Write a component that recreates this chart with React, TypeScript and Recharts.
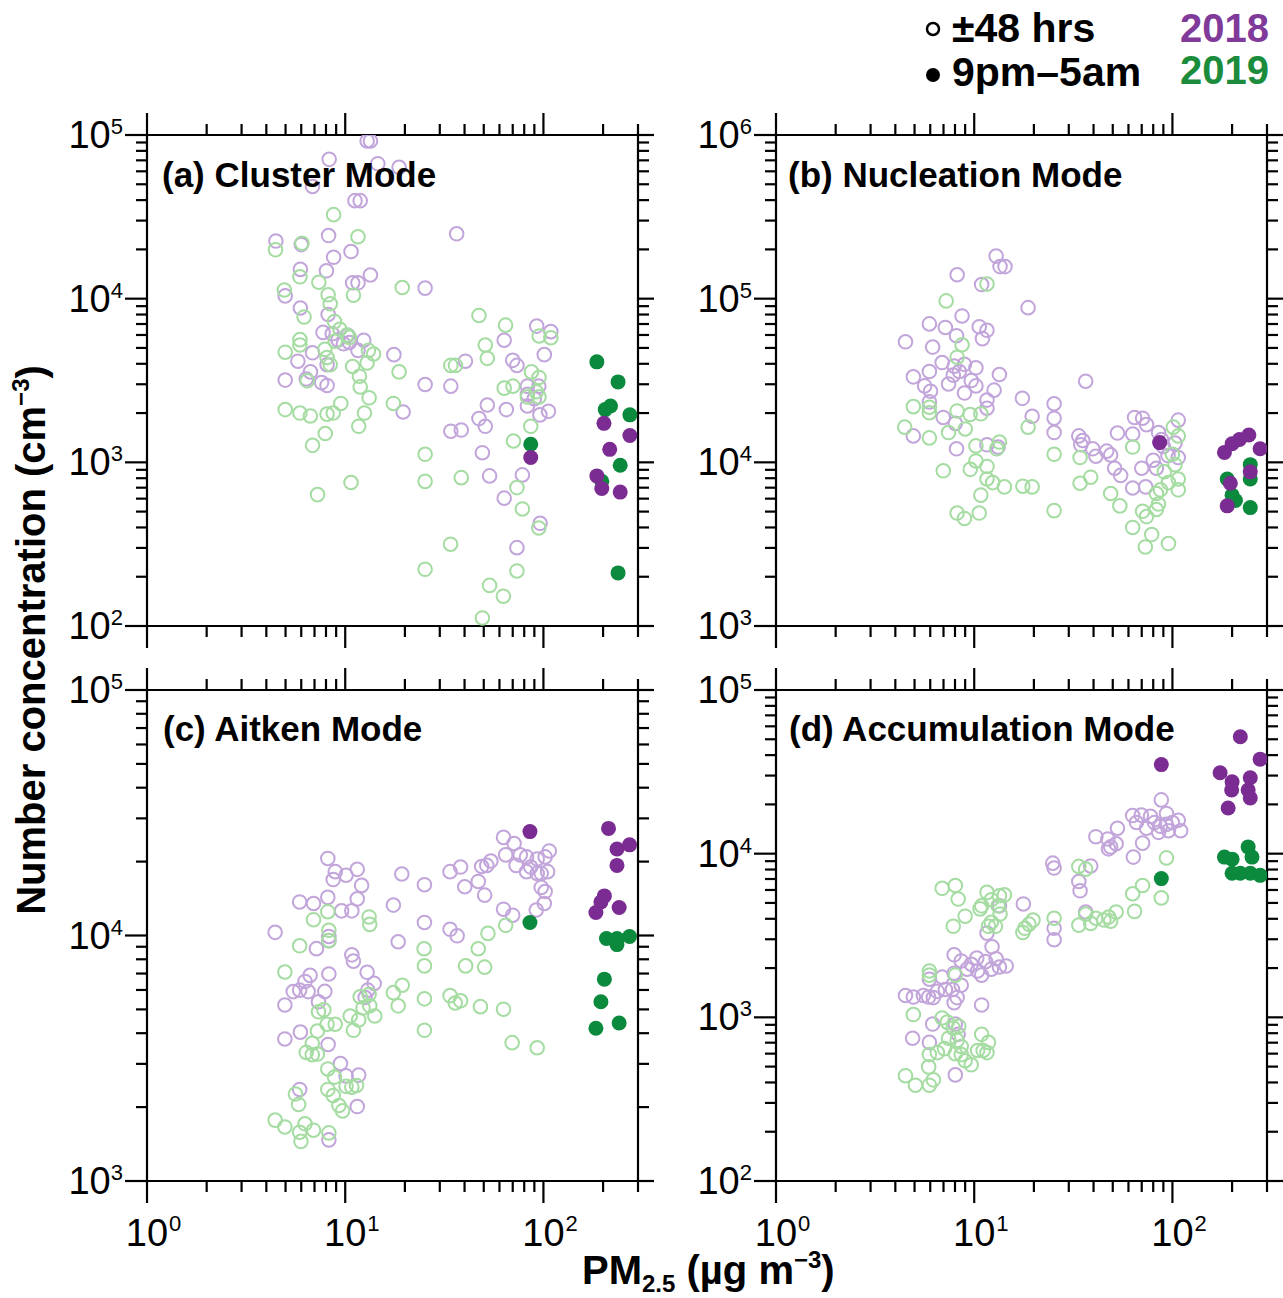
import React from "react";
import { ScatterChart, Scatter, XAxis, YAxis, ReferenceArea } from "recharts";

type Pt = [number, number];

// x = PM2.5 (µg m-3), y = number concentration (cm-3)
// (a) Cluster mode
const clusterOpen2018: Pt[] = [
  [12.9, 92000], [13.4, 92000], [8.3, 71000], [6.84, 48500], [14.6, 66800], [18.7, 63500],
  [11.2, 39700], [11.9, 39700], [36.5, 24900], [4.47, 22500], [8.24, 24300], [6.0, 21400],
  [10.7, 19400], [8.74, 17900], [5.94, 15100], [8.04, 14800], [13.4, 13950], [10.9, 12500],
  [11.6, 12500], [4.98, 10400], [25.3, 11600], [5.94, 8770], [8.2, 8010], [92.5, 6800],
  [109, 6290], [7.73, 6220], [63.4, 5570], [10.3, 5970], [12.4, 5570], [6.84, 4670],
  [17.6, 4550], [101, 4550], [11.6, 4830], [5.77, 4150], [40.4, 4150], [70, 4200],
  [73.5, 3910], [6.68, 3570], [4.98, 3180], [6.36, 3230], [8.1, 3950], [7.6, 3070],
  [8.1, 2950], [25.3, 2990], [34.1, 2920], [83, 2920], [94.8, 2920], [52.1, 2240],
  [65, 2100], [83, 2210], [96, 1950], [106, 2050], [19.6, 2030], [47.3, 1850], [50.9, 1660],
  [34.1, 1550], [38.5, 1575], [49.2, 1145], [53.5, 826], [78.3, 838], [63.4, 604],
  [96.2, 424], [73.5, 301], [9.2, 5600], [9.8, 5300], [8.6, 6100], [10.5, 5400], [83, 2600], [90, 2450],
];
const clusterOpen2019: Pt[] = [
  [8.74, 32600], [11.6, 23900], [4.45, 19900], [6.05, 21800], [4.93, 11300], [5.91, 13600],
  [7.36, 12600], [11.0, 10500], [19.4, 11700], [8.2, 10560], [8.4, 9310], [6.2, 7730],
  [8.83, 7240], [47.3, 7890], [64.4, 6890], [95.2, 5920], [109, 5770], [50.9, 5210],
  [52.1, 4320], [5.91, 5620], [5.91, 5210], [4.98, 4710], [13.1, 4830], [13.9, 4590],
  [8.1, 4370], [8.4, 3950], [10.9, 3850], [12.9, 4050], [34.1, 3910], [36.0, 3910],
  [18.7, 3570], [11.8, 3360], [11.9, 2890], [87, 3570], [6.43, 3150], [63.4, 2840],
  [70.2, 2920], [83, 2510], [95, 2510], [13.2, 2480], [4.98, 2100], [5.91, 2000], [6.67, 1920],
  [8.1, 1970], [8.7, 2000], [9.5, 2290], [12.5, 2000], [11.7, 1660], [17.5, 2290], [7.93, 1500],
  [6.84, 1270], [86.3, 1660], [70.6, 1350], [25.3, 1120], [25.3, 765], [10.7, 753], [38.5, 806],
  [73.5, 701], [7.25, 635], [78.3, 519], [94.8, 397], [34, 316], [25.3, 222], [73.5, 217],
  [53.5, 177], [62.8, 152], [49.2, 112], [9.4, 6500], [10.2, 6000], [8.9, 5500], [7.9, 4900],
  [10.5, 5800], [95, 3300], [92, 2700],
];
const clusterNight2018: Pt[] = [
  [86.3, 1070], [202, 1730], [273, 1460], [216, 1200], [186, 826], [197, 692], [244, 658],
];
const clusterNight2019: Pt[] = [
  [86.3, 1290], [186, 4110], [238, 3100], [205, 2100], [218, 2210], [273, 1950], [244, 960],
  [197, 765], [238, 211],
];

// (b) Nucleation mode
const nucOpen2018: Pt[] = [
  [12.9, 182000], [13.5, 157000], [14.3, 157000], [8.2, 140000], [10.9, 122000], [18.7, 88100],
  [8.68, 78400], [5.94, 70100], [7.15, 66700], [10.6, 67400], [11.6, 64100], [8.14, 59400],
  [11.0, 57000], [4.5, 54500], [6.17, 50600], [6.89, 40700], [7.92, 38700], [8.93, 39700],
  [10.2, 37800], [8.41, 35900], [7.84, 34100], [5.94, 35900], [4.93, 33300], [13.4, 34400],
  [7.42, 30100], [9.66, 31600], [10.2, 29300], [36.5, 31300], [5.62, 29300], [6.02, 27200],
  [12.6, 27600], [8.93, 26500], [11.6, 24000], [17.5, 24600], [5.94, 23400], [25.3, 22800],
  [25.3, 18600], [25.3, 15200], [11.6, 21400], [19.6, 19100], [6.98, 18800], [8.03, 17300],
  [4.93, 14500], [64.4, 18800], [70.7, 18600], [107, 18100], [74, 17000], [52.8, 15100],
  [63, 14900], [33.7, 14500], [35.3, 13600], [85.1, 15200], [34.5, 12800], [39.6, 12100],
  [46.6, 11700], [48.8, 11100], [41.1, 10900], [8.14, 12100], [11.6, 12800], [13.2, 12400],
  [70, 9200], [51.1, 9200], [54.8, 8320], [83, 9200], [107, 10700], [103, 13100], [63, 6970],
  [73.3, 7080], [90, 12500], [95, 11000], [80, 10300], [88, 13800],
];
const nucOpen2019: Pt[] = [
  [11.6, 123000], [7.22, 96900], [8.68, 52300], [8.2, 43900], [4.93, 21900], [5.94, 21700],
  [5.94, 20100], [4.46, 16400], [5.94, 14100], [7.42, 15200], [8.2, 20600], [9.01, 16000],
  [10.8, 19800], [9.53, 19600], [10.2, 12600], [13.4, 13300], [13.0, 12100], [10.2, 10200],
  [11.6, 9440], [9.55, 9060], [11.6, 7910], [12.4, 7520], [14.2, 7080], [10.8, 6300],
  [10.6, 4900], [8.2, 4900], [8.93, 4540], [6.98, 8880], [17.6, 7150], [19.6, 7080],
  [18.7, 16400], [25.3, 11200], [25.3, 5070], [34.2, 10700], [34.2, 7450], [38.7, 8110],
  [48.8, 6450], [54.3, 5420], [63, 12400], [63, 4000], [78.6, 3620], [73, 3040], [95.5, 3190],
  [70.7, 5020], [74, 4660], [83, 5150], [87, 6790], [95.5, 7520], [107, 7910], [91, 8750],
  [103, 9680], [100, 11200], [101, 16400], [107, 14500], [83, 6450], [107, 6790], [85, 5560],
];
const nucNight2018: Pt[] = [
  [86.2, 13200], [183, 11500], [200, 13000], [218, 13800], [243, 14700], [277, 12100],
  [196, 7450], [247, 8750], [189, 5420],
];
const nucNight2019: Pt[] = [
  [189, 7910], [200, 6300], [208, 5850], [247, 9680], [247, 7910], [247, 5290],
];

// (c) Aitken mode
const aitOpen2018: Pt[] = [
  [8.17, 20600], [8.91, 18200], [10.1, 17600], [11.5, 18600], [8.7, 16900], [12.1, 16000],
  [19.3, 17800], [25.1, 16100], [5.89, 13700], [6.92, 13500], [8.17, 14300], [9.59, 12600],
  [10.8, 12600], [11.5, 14100], [17.5, 13300], [33.8, 18200], [38.2, 19000], [40.1, 15800],
  [46.9, 16600], [50.5, 14600], [48.8, 19100], [51.8, 19300], [54.3, 20100], [62.9, 25100],
  [71.1, 23700], [64.5, 21300], [76.4, 21300], [72.8, 19300], [82.2, 20900], [93, 20500],
  [102, 20900], [107, 22100], [82.2, 18200], [93, 17900], [86.3, 19000], [97.5, 17900],
  [105, 18200], [97.5, 15700], [102, 15100], [101, 13500], [92, 12700], [62.9, 12800],
  [70, 12100], [25.1, 11300], [33.8, 10600], [36.7, 9970], [4.43, 10300], [8.27, 9530],
  [8.27, 9910], [7.16, 8840], [18.5, 9430], [10.8, 8340], [11.0, 7860], [8.27, 6970],
  [6.65, 6880], [6.27, 6500], [12.9, 7080], [14.0, 6380], [5.89, 5990], [5.47, 5910],
  [6.5, 5910], [4.96, 5210], [7.89, 5920], [7.33, 5370], [13.0, 5990], [12.6, 5590],
  [5.94, 4040], [4.96, 3790], [8.2, 3600], [9.46, 3010], [10.1, 2680], [11.7, 2700],
  [5.89, 2360], [11.5, 2010], [8.27, 1470],
];
const aitOpen2019: Pt[] = [
  [6.92, 11600], [8.17, 12500], [13.2, 11900], [13.3, 11100], [5.89, 9080], [8.27, 10500],
  [8.27, 9530], [4.96, 7100], [25.0, 8830], [25.1, 7520], [40.5, 7520], [50.5, 7430],
  [46.9, 8830], [52.5, 10200], [64.5, 11000], [17.5, 5850], [19.4, 6270], [18.5, 5170],
  [25.1, 5520], [33.8, 5690], [35.9, 5310], [38.2, 5420], [48.1, 5130], [62.9, 5010],
  [25.1, 4110], [69.5, 3660], [93, 3490], [11.9, 5630], [12.3, 5070], [13.2, 5750],
  [13.3, 5170], [14.1, 4700], [10.6, 4700], [11.0, 4110], [11.7, 4530], [7.33, 4890],
  [7.8, 4980], [8.1, 4350], [8.9, 4350], [7.24, 4080], [6.82, 3640], [6.36, 3340], [6.82, 3270],
  [7.24, 3290], [8.17, 2860], [8.83, 2650], [8.17, 2360], [8.7, 2230], [10.1, 2430],
  [10.8, 2410], [11.4, 2450], [9.3, 2030], [9.7, 1930], [5.61, 2260], [5.82, 2050],
  [4.43, 1770], [4.96, 1660], [5.89, 1580], [5.98, 1450], [6.27, 1710], [6.92, 1610], [8.27, 1570],
];
const aitNight2018: Pt[] = [
  [85.5, 26500], [213, 27300], [235, 22500], [272, 23400], [235, 19300], [203, 14500],
  [195, 13700], [184, 12400], [241, 13000],
];
const aitNight2019: Pt[] = [
  [85.5, 11300], [208, 9720], [235, 9720], [272, 9910], [235, 9180], [203, 6640], [195, 5370],
  [184, 4190], [241, 4400],
];

// (d) Accumulation mode
const accOpen2018: Pt[] = [
  [87.9, 21300], [63, 17100], [69.7, 17200], [77.5, 16900], [93.3, 17600], [65.9, 15500],
  [74, 14300], [81.2, 15500], [87, 14700], [93, 15100], [100, 15500], [107, 16000], [110, 13800],
  [95.5, 13800], [85.1, 13500], [52.8, 14300], [41.1, 12700], [47.2, 12300], [48.8, 11000],
  [52, 11500], [47.6, 10700], [70.7, 11600], [63.5, 9530], [24.9, 8750], [25.3, 8170],
  [38.7, 8410], [33.7, 6760], [34.2, 5930], [36.5, 4400], [17.7, 4930], [13.4, 4800],
  [11.6, 3270], [12.3, 2700], [7.92, 2410], [8.6, 2210], [9.66, 2110], [10.3, 2300],
  [11.4, 2190], [12.9, 2280], [13.4, 2030], [14.5, 2060], [9.22, 1970], [10.4, 1920],
  [10.9, 1810], [12.2, 1970], [7.92, 1860], [6.89, 1760], [5.94, 1710], [8.6, 1570],
  [7.77, 1480], [7.15, 1480], [6.52, 1440], [7.92, 1230], [6.22, 1320], [5.54, 1360],
  [4.93, 1330], [4.5, 1360], [5.89, 1330], [8.2, 1320], [10.9, 1190], [4.89, 745], [6.17, 910],
  [8.03, 910], [8.3, 787], [5.94, 703], [8.03, 445], [25.3, 3500], [25.3, 2980],
];
const accOpen2019: Pt[] = [
  [93.3, 9420], [87.9, 5370], [70.7, 6390], [63, 5690], [64.4, 4440], [33.7, 8360], [36.5, 8040],
  [52, 4400], [47.7, 4100], [48.8, 3870], [41.1, 4030], [36.5, 4270], [33.7, 3660], [38.7, 3750],
  [45.1, 3930], [25.3, 4030], [19.8, 3930], [18.9, 3710], [17.6, 3300], [18.0, 3500],
  [6.89, 6140], [8.03, 6390], [8.3, 5280], [7.84, 3600], [9.0, 4150], [10.7, 4600], [11.6, 5800],
  [12.2, 5230], [10.9, 4800], [13.4, 5530], [14.2, 5600], [13.2, 4800], [13.5, 4280],
  [12.2, 3810], [12.8, 3600], [11.8, 3600], [4.5, 440], [5.05, 385], [5.94, 385], [6.22, 415],
  [5.89, 498], [4.93, 1040], [5.94, 592], [6.52, 609], [7.08, 644], [8.03, 599], [8.6, 592],
  [9.0, 543], [9.66, 513], [10.4, 627], [11.1, 627], [11.6, 609], [10.9, 787], [11.8, 703],
  [6.89, 991], [7.31, 935], [7.84, 859], [8.36, 883], [8.2, 723], [8.6, 664], [7.42, 745],
  [5.94, 1810], [5.94, 1920], [8.03, 1810],
];
const accNight2018: Pt[] = [
  [87.9, 35000], [220, 51800], [277, 37800], [174, 31200], [200, 27500], [247, 29100],
  [241, 24500], [199, 24500], [247, 21900], [191, 19000],
];
const accNight2019: Pt[] = [
  [87.9, 7040], [183, 9530], [200, 9260], [241, 11000], [252, 9530], [200, 7590], [220, 7590],
  [247, 7590], [277, 7370],
];

const xMajors = [1, 10, 100];
const xDomain: [number, number] = [1, 300];

const LIGHT_PURPLE = "#c2a5da";
const LIGHT_GREEN = "#a5dca2";
const PURPLE = "#7b2c92";
const GREEN = "#0b8a3d";
const FONT = "'Liberation Sans', Arial, Helvetica, sans-serif";

const PLOT_W = 491;
const PLOT_H = 491;

function withMinors(majors: number[], max: number) {
  const out: number[] = [];
  majors.forEach((m) => {
    for (let k = 1; k <= 9; k++) {
      const v = m * k;
      if (v <= max * 1.0001) out.push(v);
    }
  });
  return out;
}

function isMajor(v: number) {
  const e = Math.log10(v);
  return Math.abs(e - Math.round(e)) < 1e-6;
}

function XTick(props: any) {
  const { x, y, payload, showLabel } = props;
  const v = payload.value;
  const len = isMajor(v) ? 22 : 11;
  return (
    <g>
      <line x1={x} x2={x} y1={y} y2={y + len} stroke="#000" strokeWidth={2.2} />
      <line x1={x} x2={x} y1={y - PLOT_H} y2={y - PLOT_H - len} stroke="#000" strokeWidth={2.2} />
      {showLabel && isMajor(v) && (
        <g fontFamily={FONT} fill="#000">
          <text x={x} y={y + 65} fontSize={38} textAnchor="middle">10</text>
          <text x={x + 22} y={y + 50} fontSize={22} textAnchor="start">
            {Math.round(Math.log10(v))}
          </text>
        </g>
      )}
    </g>
  );
}

function YTick(props: any) {
  const { x, y, payload } = props;
  const v = payload.value;
  const len = isMajor(v) ? 22 : 11;
  return (
    <g>
      <line x1={x} x2={x - len} y1={y} y2={y} stroke="#000" strokeWidth={2.2} />
      <line x1={x + PLOT_W} x2={x + PLOT_W + len} y1={y} y2={y} stroke="#000" strokeWidth={2.2} />
      {isMajor(v) && (
        <text x={x - 24} y={y + 13} fontSize={38} textAnchor="end" fontFamily={FONT} fill="#000">
          10
          <tspan dy={-14} fontSize={22}>
            {Math.round(Math.log10(v))}
          </tspan>
        </text>
      )}
    </g>
  );
}

const toObj = (pts: Pt[]) => pts.map(([x, y]) => ({ x, y }));

const openShape = (color: string) => (p: any) =>
  <circle cx={p.cx} cy={p.cy} r={6.8} fill="none" stroke={color} strokeWidth={2} />;
const fillShape = (color: string) => (p: any) =>
  <circle cx={p.cx} cy={p.cy} r={7.5} fill={color} stroke="none" />;

interface PanelProps {
  left: number;
  top: number;
  yMajors: number[];
  showX: boolean;
  open18: Pt[];
  open19: Pt[];
  night18: Pt[];
  night19: Pt[];
}

function Panel({ left, top, yMajors, showX, open18, open19, night18, night19 }: PanelProps) {
  const yDomain: [number, number] = [yMajors[0], yMajors[yMajors.length - 1]];
  const yTicks = withMinors(yMajors, yDomain[1]);
  const xTicks = withMinors(xMajors, xDomain[1]);
  return (
    <div style={{ position: "absolute", left: left - 100, top: top - 30 }}>
      <ScatterChart
        width={PLOT_W + 100 + 16}
        height={PLOT_H + 30 + 100}
        margin={{ top: 30, right: 16, bottom: 40, left: 20 }}
      >
        <XAxis
          type="number"
          dataKey="x"
          scale="log"
          domain={xDomain}
          allowDataOverflow
          ticks={xTicks}
          interval={0}
          tickSize={0}
          tickMargin={0}
          axisLine={false}
          height={60}
          tick={(p: any) => <XTick {...p} showLabel={showX} />}
        />
        <YAxis
          type="number"
          dataKey="y"
          scale="log"
          domain={yDomain}
          allowDataOverflow
          ticks={yTicks}
          interval={0}
          tickSize={0}
          tickMargin={0}
          axisLine={false}
          width={80}
          tick={(p: any) => <YTick {...p} />}
        />
        <Scatter data={toObj(open18)} isAnimationActive={false} shape={openShape(LIGHT_PURPLE)} />
        <Scatter data={toObj(open19)} isAnimationActive={false} shape={openShape(LIGHT_GREEN)} />
        <Scatter data={toObj(night19)} isAnimationActive={false} shape={fillShape(GREEN)} />
        <Scatter data={toObj(night18)} isAnimationActive={false} shape={fillShape(PURPLE)} />
        <ReferenceArea
          x1={xDomain[0]}
          x2={xDomain[1]}
          y1={yDomain[0]}
          y2={yDomain[1]}
          fill="none"
          stroke="#000"
          strokeWidth={2.2}
          strokeOpacity={1}
        />
      </ScatterChart>
    </div>
  );
}

export default function App() {
  return (
    <div
      style={{
        position: "absolute",
        left: 0,
        top: 0,
        width: 1283,
        height: 1298,
        overflow: "hidden",
        background: "#fff",
      }}
    >
      <Panel left={147} top={135} yMajors={[1e2, 1e3, 1e4, 1e5]} showX={false}
        open18={clusterOpen2018} open19={clusterOpen2019} night18={clusterNight2018} night19={clusterNight2019} />
      <Panel left={776} top={135} yMajors={[1e3, 1e4, 1e5, 1e6]} showX={false}
        open18={nucOpen2018} open19={nucOpen2019} night18={nucNight2018} night19={nucNight2019} />
      <Panel left={147} top={690} yMajors={[1e3, 1e4, 1e5]} showX={true}
        open18={aitOpen2018} open19={aitOpen2019} night18={aitNight2018} night19={aitNight2019} />
      <Panel left={776} top={690} yMajors={[1e2, 1e3, 1e4, 1e5]} showX={true}
        open18={accOpen2018} open19={accOpen2019} night18={accNight2018} night19={accNight2019} />

      <svg
        width={1283}
        height={1298}
        style={{ position: "absolute", left: 0, top: 0, pointerEvents: "none" }}
        fontFamily={FONT}
        fontWeight="bold"
      >
        <text x={162} y={187} fontSize={35}>(a) Cluster Mode</text>
        <text x={788} y={187} fontSize={35}>(b) Nucleation Mode</text>
        <text x={163} y={741} fontSize={35}>(c) Aitken Mode</text>
        <text x={789} y={741} fontSize={35}>(d) Accumulation Mode</text>

        <text transform="translate(45,640) rotate(-90)" textAnchor="middle" fontSize={40}>
          Number concentration (cm
          <tspan dy={-16} fontSize={24}>−3</tspan>
          <tspan dy={16}>)</tspan>
        </text>

        <text x={582} y={1284} fontSize={40}>
          PM
          <tspan dy={8} fontSize={24}>2.5</tspan>
          <tspan dy={-8}> (µg m</tspan>
          <tspan dy={-16} fontSize={24}>−3</tspan>
          <tspan dy={16}>)</tspan>
        </text>

        <circle cx={933} cy={29} r={6} fill="#fff" stroke="#000" strokeWidth={2.5} />
        <text x={952} y={42} fontSize={41}>±48 hrs</text>
        <circle cx={933} cy={75} r={7} fill="#000" />
        <text x={952} y={86} fontSize={41}>9pm–5am</text>
        <text x={1180} y={42} fontSize={40} fill="#7f3a9a">2018</text>
        <text x={1180} y={84} fontSize={40} fill="#1a8c3c">2019</text>
      </svg>
    </div>
  );
}
